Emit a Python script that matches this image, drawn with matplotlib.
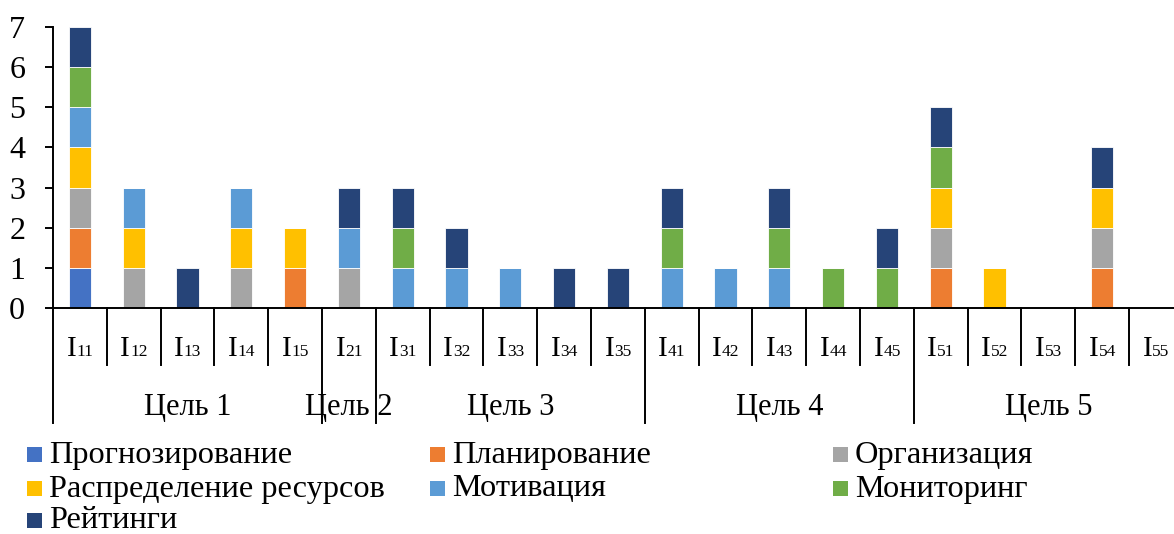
import matplotlib
matplotlib.use("Agg")
import matplotlib.pyplot as plt
from matplotlib.patches import Rectangle
import matplotlib.transforms as mtransforms
import numpy as np

plt.rcParams['font.family'] = ['Liberation Serif', 'DejaVu Serif']

# ---- data ----
categories = ["I11", "I12", "I13", "I14", "I15", "I21",
              "I31", "I32", "I33", "I34", "I35",
              "I41", "I42", "I43", "I44", "I45",
              "I51", "I52", "I53", "I54", "I55"]
groups = ["Цель 1", "Цель 2", "Цель 3", "Цель 4", "Цель 5"]
group_sizes = [5, 1, 5, 5, 5]

series_names = ["Прогнозирование", "Планирование", "Организация",
                "Распределение ресурсов", "Мотивация", "Мониторинг", "Рейтинги"]
colors = ["#4472C4", "#ED7D31", "#A5A5A5", "#FFC000", "#5B9BD5", "#70AD47", "#264478"]

prognoz   = [1, 0, 0, 0, 0, 0, 0, 0, 0, 0, 0, 0, 0, 0, 0, 0, 0, 0, 0, 0, 0]
planir    = [1, 0, 0, 0, 1, 0, 0, 0, 0, 0, 0, 0, 0, 0, 0, 0, 1, 0, 0, 1, 0]
organiz   = [1, 1, 0, 1, 0, 1, 0, 0, 0, 0, 0, 0, 0, 0, 0, 0, 1, 0, 0, 1, 0]
raspred   = [1, 1, 0, 1, 1, 0, 0, 0, 0, 0, 0, 0, 0, 0, 0, 0, 1, 1, 0, 1, 0]
motiv     = [1, 1, 0, 1, 0, 1, 1, 1, 1, 0, 0, 1, 1, 1, 0, 0, 0, 0, 0, 0, 0]
monitor   = [1, 0, 0, 0, 0, 0, 1, 0, 0, 0, 0, 1, 0, 1, 1, 1, 1, 0, 0, 0, 0]
reiting   = [1, 0, 1, 0, 0, 1, 1, 1, 0, 1, 1, 1, 0, 1, 0, 1, 1, 0, 0, 1, 0]
series = [prognoz, planir, organiz, raspred, motiv, monitor, reiting]

W, H = 1174, 534
fig = plt.figure(figsize=(W / 100, H / 100), dpi=100)
# axes: left spine at x=53px, zero at y=308px, top (7) at y=27px, 53.8px per category
ax = fig.add_axes([53 / W, (H - 308) / H, 21 * 53.8 / W, 281 / H])

n = len(categories)
x = np.arange(n) + 0.5
bottom = np.zeros(n)
for vals, c in zip(series, colors):
    v = np.array(vals, dtype=float)
    ax.bar(x, v, width=0.41, bottom=bottom, color=c, edgecolor='white', linewidth=0.6)
    bottom += v

ax.set_xlim(0, n)
ax.set_ylim(0, 7)
ax.set_yticks(range(8))
ax.tick_params(axis='y', labelsize=23, length=6, width=1.4, pad=14)
ax.set_xticks([])
for s in ['top', 'right']:
    ax.spines[s].set_visible(False)
for s in ['left', 'bottom']:
    ax.spines[s].set_linewidth(1.4)

trans = mtransforms.blended_transform_factory(ax.transData, ax.transAxes)

# boundary lines
group_edges = np.concatenate([[0], np.cumsum(group_sizes)])
for b in range(n + 1):
    y_end = -0.409 if b in group_edges else -0.203
    ax.plot([b, b], [0, y_end], color='black', lw=1.4, transform=trans, clip_on=False)

# category labels: "I" with small digits
for i, cat in enumerate(categories):
    ax.annotate(cat[0], xy=(i + 0.5, -0.171), xycoords=trans, xytext=(-2.6, 0),
                textcoords='offset points', ha='right', va='baseline', fontsize=21,
                annotation_clip=False)
    ax.annotate(cat[1:], xy=(i + 0.5, -0.171), xycoords=trans, xytext=(-2.6, 0),
                textcoords='offset points', ha='left', va='baseline', fontsize=12.5,
                annotation_clip=False)

# group labels
for gi, g in enumerate(groups):
    center = (group_edges[gi] + group_edges[gi + 1]) / 2
    ax.text(center, -0.381, g, transform=trans, ha='center', va='baseline',
            fontsize=22, clip_on=False)

# legend (row-major, 3 columns)
col_x = [27, 430, 833]
row_y = [454, 488, 520]
for i, (name, c) in enumerate(zip(series_names, colors)):
    r, col = divmod(i, 3)
    mx, my = col_x[col], row_y[r]
    fig.add_artist(Rectangle((mx / W, 1 - (my + 7.5) / H), 15 / W, 15 / H,
                             transform=fig.transFigure, color=c, lw=0))
    fig.text((mx + 22) / W, 1 - (my + 1) / H, name, ha='left', va='center', fontsize=23.3)

fig.savefig("out.png", dpi=100)
